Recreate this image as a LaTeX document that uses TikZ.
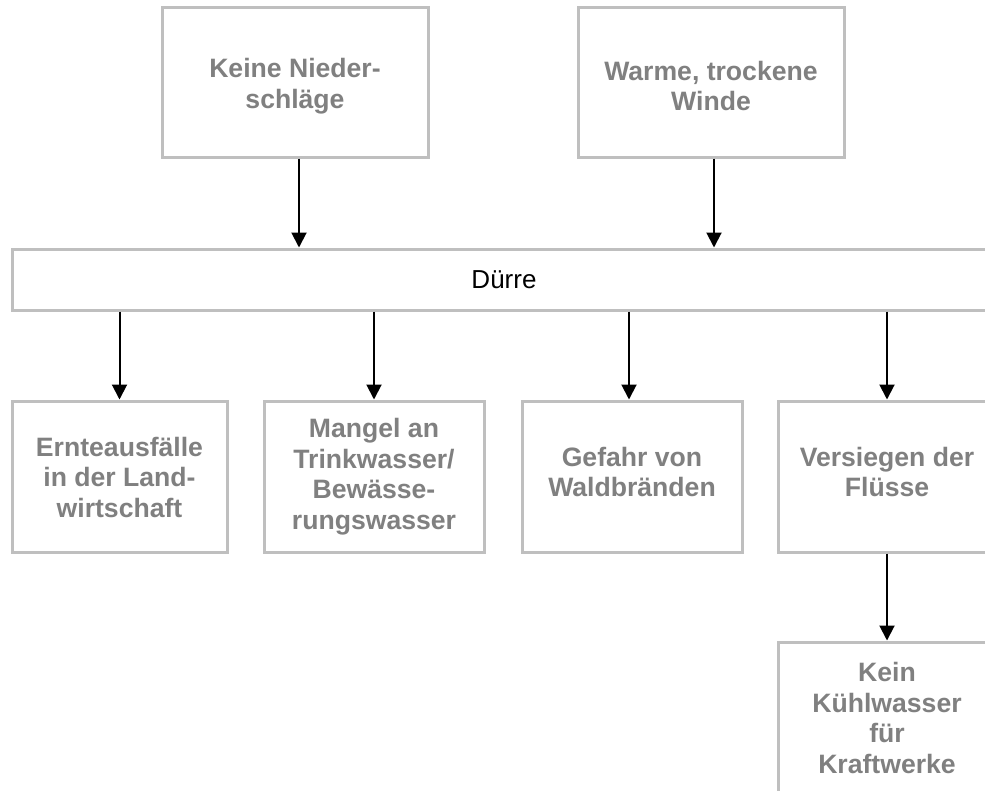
\documentclass[tikz,border=0pt]{standalone}
\usepackage{fontspec}
\setmainfont{Liberation Sans}
\usetikzlibrary{arrows.meta}
\definecolor{boxgray}{HTML}{BFBFBF}
\definecolor{txtgray}{HTML}{808080}
\tikzset{
  box/.style={draw=boxgray, line width=3pt, rectangle, inner sep=0pt},
  lbl/.style={align=center, text=txtgray, inner sep=0pt, font=\fontsize{26.6}{30.5}\selectfont\bfseries},
  bar/.style={draw=boxgray, line width=3pt, rectangle, inner sep=0pt,
    align=center, text=black, font=\fontsize{26}{30}\selectfont},
  arr/.style={line width=2pt, -{Triangle[length=15pt,width=15pt]}}
}
\begin{document}
\begin{tikzpicture}[x=1pt,y=-1pt]
\useasboundingbox (0,0) rectangle (985,790);
\begin{scope}
\clip (0,0) rectangle (985,790);
\fill[white] (0,0) rectangle (985,790);
\node[box, minimum width=266pt, minimum height=150pt] (top1) at (295,82) {};
\node[lbl] (top1t) at (295,86) {Keine Nieder-\\schläge};
\node[box, minimum width=266pt, minimum height=150pt] (top2) at (711,82) {};
\node[lbl] (top2t) at (711,86) {Warme, trockene\\Winde};
\node[bar, minimum width=984pt, minimum height=61pt] (duerre) at (504,279.5) {Dürre};
\node[box, minimum width=215pt, minimum height=151pt] (b1) at (119.5,476.5) {};
\node[lbl] (b1t) at (119.5,477) {Ernteausfälle\\in der Land-\\wirtschaft};
\node[box, minimum width=220pt, minimum height=151pt] (b2) at (374,476.5) {};
\node[lbl] (b2t) at (374,476.5) {Mangel an\\Trinkwasser/\\Bewässe-\\rungswasser};
\node[box, minimum width=220pt, minimum height=151pt] (b3) at (632,476.5) {};
\node[lbl] (b3t) at (632,472) {Gefahr von\\Waldbränden};
\node[box, minimum width=218pt, minimum height=151pt] (b4) at (887,476.5) {};
\node[lbl] (b4t) at (887,472) {Versiegen der\\Flüsse};
\node[box, minimum width=217pt, minimum height=151pt] (k) at (887,717.5) {};
\node[lbl] (kt) at (887,718) {Kein\\Kühlwasser\\für\\Kraftwerke};
\draw[arr] ([xshift=4pt]top1.south) -- ([xshift=4pt]top1.south |- duerre.north);
\draw[arr] ([xshift=3pt]top2.south) -- ([xshift=3pt]top2.south |- duerre.north);
\draw[arr] (b1.north |- duerre.south) -- (b1.north);
\draw[arr] (b2.north |- duerre.south) -- (b2.north);
\draw[arr] ([xshift=-3pt]b3.north |- duerre.south) -- ([xshift=-3pt]b3.north);
\draw[arr] (b4.north |- duerre.south) -- (b4.north);
\draw[arr] (b4.south) -- (k.north);
\end{scope}
\end{tikzpicture}
\end{document}
